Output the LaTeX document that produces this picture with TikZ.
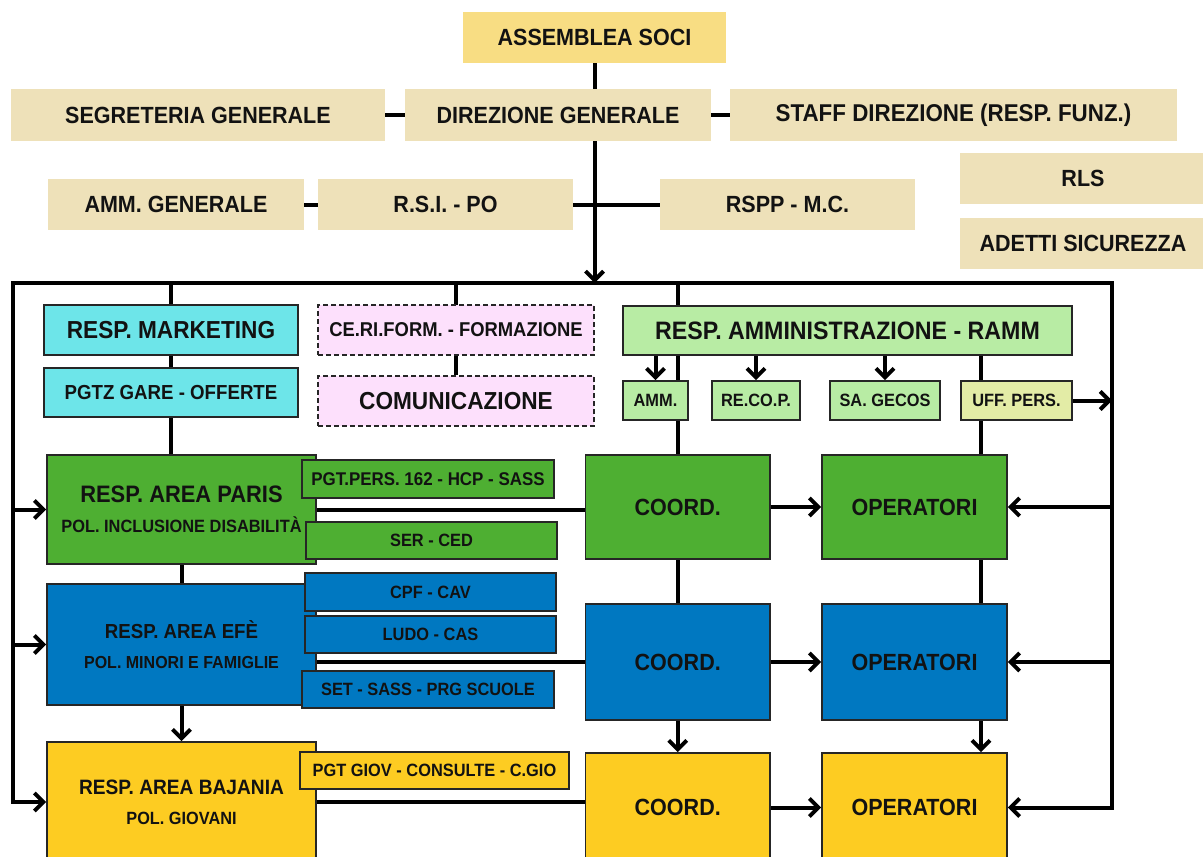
\documentclass[tikz,border=0pt]{standalone}
\usepackage{fontspec}
\setmainfont{Liberation Sans}[FakeStretch=0.92]
\usetikzlibrary{arrows.meta,backgrounds}

\definecolor{socicol}{HTML}{F8DD83}
\definecolor{beigecol}{HTML}{EEE1B9}
\definecolor{cyancol}{HTML}{6DE5E9}
\definecolor{pinkcol}{HTML}{FDE0FC}
\definecolor{ammcol}{HTML}{B8ECA4}
\definecolor{uffcol}{HTML}{E3ECA6}
\definecolor{pariscol}{HTML}{4EAF32}
\definecolor{efecol}{HTML}{0078C1}
\definecolor{bajcol}{HTML}{FDCC22}

\tikzset{
    barb/.tip={Straight Barb[length=9pt,width=18pt]},
    box/.style={rectangle, inner sep=0pt, align=center, text=black!93},
    plainbox/.style={box, fill=beigecol},
    framedbox/.style={box, draw=black!85, line width=1.6pt},
    dashbox/.style={framedbox, fill=pinkcol, dash pattern=on 5pt off 3pt},
    conn/.style={line width=4pt, black},
    arr/.style={conn, -barb},
    txtbig/.style={font=\fontsize{23.4}{28}\selectfont\bfseries},
    txthead/.style={font=\fontsize{24.6}{28}\selectfont\bfseries},
    txtmid/.style={font=\fontsize{20.3}{24}\selectfont\bfseries},
    txtsub/.style={font=\fontsize{17.8}{22}\selectfont\bfseries},
    txtsmall/.style={font=\fontsize{17.8}{20}\selectfont\bfseries},
    txtarea/.style={font=\fontsize{23.8}{30}\selectfont\bfseries},
}

\begin{document}
\begin{tikzpicture}[x=1pt, y=-1pt]
    \useasboundingbox (0,0) rectangle (1203,857);

    % direzione
    \node [plainbox, fill=socicol, txtbig, minimum width=263pt, minimum height=51pt]
        (soci) at (594.5,37.5) {ASSEMBLEA SOCI};
    \node [plainbox, txtbig, minimum width=374pt, minimum height=52pt]
        (segreteria) at (198,115) {SEGRETERIA GENERALE};
    \node [plainbox, txtbig, minimum width=306pt, minimum height=52pt]
        (direzione) at (558,115) {DIREZIONE GENERALE};
    \node [plainbox, txtbig, minimum width=447pt, minimum height=52pt, font=\fontsize{24.3}{28}\selectfont\bfseries]
        (staff) at (953.5,115) {STAFF DIREZIONE (RESP. FUNZ.)};
    \node [plainbox, txtbig, minimum width=256pt, minimum height=51pt]
        (ammgen) at (176,204.5) {AMM. GENERALE};
    \node [plainbox, txtbig, minimum width=255pt, minimum height=51pt]
        (rsi) at (445.5,204.5) {R.S.I. - PO};
    \node [plainbox, txtbig, minimum width=255pt, minimum height=51pt]
        (rspp) at (787.5,204.5) {RSPP - M.C.};
    \node [plainbox, txtbig, minimum width=246pt, minimum height=51pt]
        (rls) at (1083,178.5) {RLS};
    \node [plainbox, txtbig, minimum width=246pt, minimum height=51pt]
        (adetti) at (1083,243.5) {ADETTI SICUREZZA};

    % uffici
    \node [framedbox, fill=cyancol, txthead, minimum width=254pt, minimum height=50pt]
        (marketing) at (171,330) {RESP. MARKETING};
    \node [framedbox, fill=cyancol, txtmid, minimum width=254pt, minimum height=49pt]
        (gare) at (171,392.5) {PGTZ GARE - OFFERTE};
    \node [dashbox, txtmid, minimum width=276pt, minimum height=50pt, font=\fontsize{20}{24}\selectfont\bfseries]
        (ceriform) at (456,330) {CE.RI.FORM. - FORMAZIONE};
    \node [dashbox, txthead, minimum width=276pt, minimum height=50pt]
        (comunicazione) at (456,401) {COMUNICAZIONE};
    \node [framedbox, fill=ammcol, txthead, minimum width=449pt, minimum height=49pt, font=\fontsize{25.2}{28}\selectfont\bfseries]
        (ramm) at (847.5,330.5) {RESP. AMMINISTRAZIONE - RAMM};
    \node [framedbox, fill=ammcol, txtsmall, minimum width=65pt, minimum height=39pt]
        (amm) at (655.5,400.5) {AMM.};
    \node [framedbox, fill=ammcol, txtsmall, minimum width=88pt, minimum height=39pt]
        (recop) at (756,400.5) {RE.CO.P.};
    \node [framedbox, fill=ammcol, txtsmall, minimum width=110pt, minimum height=39pt]
        (gecos) at (885,400.5) {SA. GECOS};
    \node [framedbox, fill=uffcol, txtsmall, minimum width=111pt, minimum height=39pt]
        (uffpers) at (1016.5,400.5) {UFF. PERS.};

    % area paris
    \node [framedbox, fill=pariscol, txtarea, minimum width=269pt, minimum height=109pt]
        (paris) at (181.5,509.5)
        {RESP. AREA PARIS\\{\fontsize{17.8}{30}\selectfont POL. INCLUSIONE DISABILITÀ}};
    \node [framedbox, fill=pariscol, txtsub, minimum width=252pt, minimum height=38pt, font=\fontsize{18.4}{22}\selectfont\bfseries]
        (pgtpers) at (428,479) {PGT.PERS. 162 - HCP - SASS};
    \node [framedbox, fill=pariscol, txtsub, minimum width=251pt, minimum height=37pt]
        (serced) at (431.5,540.5) {SER - CED};
    \node [framedbox, fill=pariscol, txtbig, minimum width=184.5pt, minimum height=104pt]
        (coordg) at (677.75,507) {COORD.};
    \node [framedbox, fill=pariscol, txtbig, minimum width=185pt, minimum height=104pt]
        (operg) at (914.5,507) {OPERATORI};

    % area efe
    \node [framedbox, fill=efecol, minimum width=269pt, minimum height=121pt, font=\fontsize{20.3}{30}\selectfont\bfseries]
        (efe) at (181.5,644.5)
        {RESP. AREA EFÈ\\{\fontsize{17.4}{30}\selectfont POL. MINORI E FAMIGLIE}};
    \node [framedbox, fill=efecol, txtsub, minimum width=251pt, minimum height=38pt]
        (cpf) at (430.5,592) {CPF - CAV};
    \node [framedbox, fill=efecol, txtsub, minimum width=251pt, minimum height=37pt]
        (ludo) at (430.5,634.5) {LUDO - CAS};
    \node [framedbox, fill=efecol, txtsub, minimum width=252pt, minimum height=37pt]
        (scuole) at (428,689.5) {SET - SASS - PRG SCUOLE};
    \node [framedbox, fill=efecol, txtbig, minimum width=184.5pt, minimum height=116pt]
        (coordb) at (677.75,662) {COORD.};
    \node [framedbox, fill=efecol, txtbig, minimum width=185pt, minimum height=116pt]
        (operb) at (914.5,662) {OPERATORI};

    % area bajania
    \node [framedbox, fill=bajcol, minimum width=269pt, minimum height=120pt, font=\fontsize{20.8}{30}\selectfont\bfseries]
        (bajania) at (181.5,802)
        {RESP. AREA BAJANIA\\{\fontsize{17.7}{30}\selectfont POL. GIOVANI}};
    \node [framedbox, fill=bajcol, txtsub, minimum width=269pt, minimum height=37pt]
        (pgtgiov) at (434.5,770.5) {PGT GIOV - CONSULTE - C.GIO};
    \node [framedbox, fill=bajcol, txtbig, minimum width=184.5pt, minimum height=109pt]
        (coordy) at (677.75,807.5) {COORD.};
    \node [framedbox, fill=bajcol, txtbig, minimum width=185pt, minimum height=109pt]
        (opery) at (914.5,807.5) {OPERATORI};

    \coordinate (ftl) at (13,283);
    \coordinate (ftr) at (1112,283);
    \coordinate (opx) at (981,0);

    \begin{scope}[on background layer]
        % vertice
        \draw [arr] (soci.south) -- (soci.south |- ftl);
        \draw [conn] (segreteria) -- (staff);
        \draw [conn] (ammgen) -- (rspp);

        % cornice
        \draw [conn, barb-barb]
            (bajania.west) -| (ftl) -- (ftr) |- (opery.east);
        \draw [arr] (ftl |- paris.west) -- (paris.west);
        \draw [arr] (ftl |- efe.west) -- (efe.west);
        \draw [arr] (ftr |- operg.east) -- (operg.east);
        \draw [arr] (ftr |- operb.east) -- (operb.east);
        \draw [arr] (uffpers.east) -- (uffpers.east -| ftr);

        % discese
        \draw [conn] (marketing.north |- ftl) -- (marketing.north |- paris.north);
        \draw [conn] (ceriform.north |- ftl) -- (comunicazione.north);
        \draw [conn] (coordg.north |- ftl) -- (coordg.north);
        \draw [arr] (amm.north |- ramm.south) -- (amm.north);
        \draw [arr] (recop.north |- ramm.south) -- (recop.north);
        \draw [arr] (gecos.north |- ramm.south) -- (gecos.north);
        \draw [conn] (opx |- ramm.south) -- (opx |- operg.north);
        \draw [conn] (opx |- operg.south) -- (opx |- operb.north);
        \draw [arr] (opx |- operb.south) -- (opx |- opery.north);
        \draw [conn] (coordg) -- (coordb);
        \draw [arr] (coordb) -- (coordy);
        \draw [conn] (paris) -- (efe);
        \draw [arr] (efe) -- (bajania);

        % aree
        \draw [conn] (paris.east) -- (paris.east -| coordg.west);
        \draw [conn] (coordb.west -| efe.east) -- (coordb.west);
        \draw [conn] (bajania.east) -- (bajania.east -| coordy.west);
        \draw [arr] (coordg) -- (operg);
        \draw [arr] (coordb) -- (operb);
        \draw [arr] (coordy) -- (opery);
    \end{scope}
\end{tikzpicture}
\end{document}
